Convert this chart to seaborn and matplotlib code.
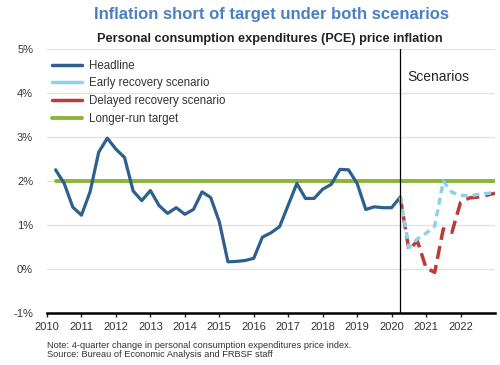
import matplotlib.pyplot as plt
import pandas as pd
import numpy as np
import seaborn as sns
from matplotlib.lines import Line2D

# quarterly PCE inflation, 4-quarter change (%)
headline_start = 2010.25
headline = [2.26, 1.95, 1.41, 1.23, 1.76, 2.66, 2.98, 2.73, 2.54, 1.78,
            1.56, 1.79, 1.45, 1.27, 1.40, 1.25, 1.36, 1.76, 1.63, 1.08,
            0.17, 0.18, 0.20, 0.25, 0.73, 0.83, 0.97, 1.46, 1.95, 1.61,
            1.61, 1.82, 1.93, 2.27, 2.26, 1.95, 1.36, 1.42, 1.40, 1.40,
            1.64]
scenario_start = 2020.25
early = [1.64, 0.50, 0.69, 0.82, 0.98, 2.00, 1.75, 1.68, 1.67, 1.70, 1.72, 1.75]
delayed = [1.64, 0.45, 0.64, 0.03, -0.07, 0.92, 0.84, 1.52, 1.62, 1.64, 1.68, 1.73]
target = 2.0
year_ticks = list(range(2010, 2023))
y_ticks = [-1, 0, 1, 2, 3, 4, 5]

hist = pd.DataFrame({'date': headline_start + np.arange(len(headline)) / 4, 'value': headline})
scen = pd.DataFrame({'date': scenario_start + np.arange(len(early)) / 4,
                     'early': early, 'delayed': delayed})
tgt = pd.DataFrame({'date': [hist['date'].iloc[0], scen['date'].iloc[-1]], 'value': [target, target]})

c_head = '#2d5f8f'
c_early = '#8fd0ea'
c_delay = '#bf3a37'
c_target = '#8db33a'

sns.set_style('white')
plt.rcParams['font.family'] = ['Liberation Sans', 'DejaVu Sans']

fig = plt.figure(figsize=(5, 3.65), dpi=100)
ax = fig.add_axes([0.094, 0.1416, 0.896, 0.7235])

# gridlines first so the data sits on top
for v in y_ticks[1:]:
    ax.axhline(v, color='#e3e3e3', lw=1, zorder=0)

sns.lineplot(ax=ax, data=tgt, x='date', y='value', color=c_target, lw=2.8, zorder=2)
sns.lineplot(ax=ax, data=hist, x='date', y='value', color=c_head, lw=2.3, zorder=3)
sns.lineplot(ax=ax, data=scen, x='date', y='delayed', color=c_delay, lw=2.5, zorder=3)
ax.lines[-1].set_dashes((3.8, 1.8))
sns.lineplot(ax=ax, data=scen, x='date', y='early', color=c_early, lw=2.5, zorder=4)
ax.lines[-1].set_dashes((2.0, 1.4))

ax.axvline(scenario_start, color='black', lw=0.9, zorder=5)
ax.text(scenario_start + 0.2, 4.28, 'Scenarios', fontsize=10, va='baseline')

ax.set_xlim(2010, 2023)
ax.set_ylim(-1, 5)
ax.set_xticks(year_ticks)
ax.set_xticklabels([str(y) for y in year_ticks], fontsize=8, color='#333333')
ax.set_yticks(y_ticks)
ax.set_yticklabels([f'{v}%' for v in y_ticks], fontsize=8, color='#333333')
ax.set_xlabel('')
ax.set_ylabel('')
ax.tick_params(axis='y', length=0, pad=10)
ax.tick_params(axis='x', length=3, width=1, direction='out', bottom=True, pad=3)
for s in ['left', 'right', 'top']:
    ax.spines[s].set_visible(False)
ax.spines['bottom'].set_linewidth(1.8)
ax.spines['bottom'].set_color('black')

handles = [Line2D([], [], color=c_head, lw=2.5),
           Line2D([], [], color=c_early, lw=2.5),
           Line2D([], [], color=c_delay, lw=2.5),
           Line2D([], [], color=c_target, lw=2.8)]
labels = ['Headline', 'Early recovery scenario', 'Delayed recovery scenario', 'Longer-run target']
ax.legend(handles, labels, loc='upper left', bbox_to_anchor=(-0.012, 1.0), frameon=False,
          fontsize=8.3, handlelength=2.6, handletextpad=0.6, labelspacing=0.5,
          labelcolor='#333333')

fig.text(0.542, 0.948, 'Inflation short of target under both scenarios', ha='center',
         fontsize=12, fontweight='bold', color='#4a7fc1')
fig.text(0.54, 0.885, 'Personal consumption expenditures (PCE) price inflation', ha='center',
         fontsize=9.2, fontweight='bold', color='#222222')
fig.text(0.094, 0.022, 'Note: 4-quarter change in personal consumption expenditures price index.\n'
         'Source: Bureau of Economic Analysis and FRBSF staff', fontsize=6.7, color='#333333',
         linespacing=1.05)

plt.savefig('out.png', dpi=100)
